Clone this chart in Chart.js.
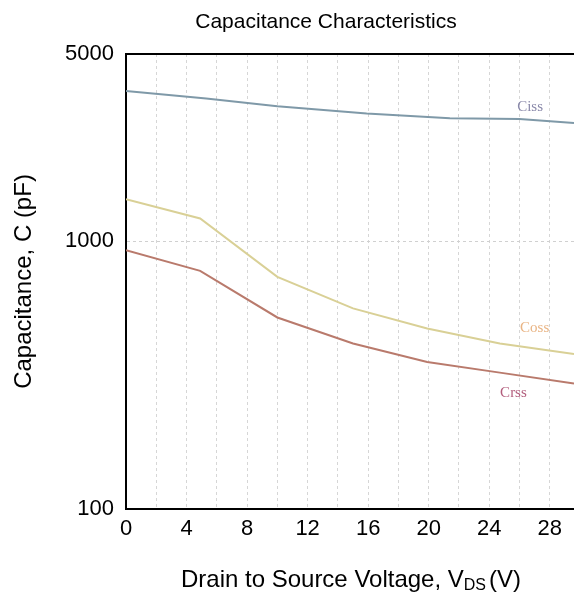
<!DOCTYPE html>
<html>
<head>
<meta charset="utf-8">
<script src="https://cdn.jsdelivr.net/npm/chart.js@4/dist/chart.umd.min.js"></script>
<style>
  html, body { margin: 0; padding: 0; background: #fff; }
  #wrap { width: 574px; height: 592px; }
</style>
</head>
<body>
<div id="wrap"><canvas id="capChart" width="574" height="592"></canvas></div>
<script>
// --- dados (V, pF) ---
const vdsCiss = [0, 5.3, 10, 15.9, 21.4, 26, 29.6];
const ciss    = [3640, 3410, 3190, 3000, 2880, 2860, 2760];
const vdsCoss = [0, 4.9, 10, 15, 19.9, 24.7, 29.6];
const coss    = [1435, 1216, 736, 561, 472, 415, 379];
const vdsCrss = [0, 4.9, 10, 15, 19.9, 24.7, 29.6];
const crss    = [925, 775, 519, 415, 354, 323, 294];

const nomes = ['Ciss', 'Coss', 'Crss'];
const corLinha = ['#7f99a8', '#d9d096', '#b97a6c'];
const corRotulo = ['#8a89aa', '#e9b484', '#b25d7c'];
// posição dos rótulos (V, pF)
const rotuloX = [26.7, 27.0, 25.6];
const rotuloY = [3160, 473, 271];

const xTicks = [0, 2, 4, 6, 8, 10, 12, 14, 16, 18, 20, 22, 24, 26, 28];
const yTicks = [100, 1000, 5000];
const xMax = 29.6;

function pares(xs, ys) {
    return xs.map((x, i) => ({ x: x, y: ys[i] }));
}

const seriesDados = [pares(vdsCiss, ciss), pares(vdsCoss, coss), pares(vdsCrss, crss)];

// desenha moldura, rótulos das curvas, título e título do eixo X
const extrasPlugin = {
    id: 'extras',
    afterDraw(chart) {
        const { ctx, chartArea, scales } = chart;
        ctx.save();
        // linha de cima
        ctx.strokeStyle = '#000';
        ctx.lineWidth = 2;
        ctx.beginPath();
        ctx.moveTo(chartArea.left - 1, chartArea.top);
        ctx.lineTo(chartArea.right, chartArea.top);
        ctx.stroke();

        // rótulos Ciss / Coss / Crss
        ctx.font = '15px "Liberation Serif", "DejaVu Serif", serif';
        ctx.textAlign = 'center';
        ctx.textBaseline = 'middle';
        nomes.forEach((n, i) => {
            ctx.fillStyle = corRotulo[i];
            ctx.fillText(n, scales.x.getPixelForValue(rotuloX[i]), scales.y.getPixelForValue(rotuloY[i]));
        });

        // título
        ctx.fillStyle = '#000';
        ctx.font = '21px "Liberation Sans", Arial, sans-serif';
        ctx.textBaseline = 'alphabetic';
        ctx.fillText('Capacitance Characteristics', 326, 28);

        // título do eixo X com subscrito
        const parte1 = 'Drain to Source Voltage, V';
        const sub = 'DS';
        const parte3 = '(V)';
        const fGrande = '24px "Liberation Sans", Arial, sans-serif';
        const fPeq = '16px "Liberation Sans", Arial, sans-serif';
        ctx.font = fGrande;
        const w1 = ctx.measureText(parte1).width;
        const w3 = ctx.measureText(parte3).width;
        ctx.font = fPeq;
        const w2 = ctx.measureText(sub).width;
        const total = w1 + w2 + 3 + w3;
        let x0 = 351 - total / 2;
        const base = 587;
        ctx.textAlign = 'left';
        ctx.font = fGrande;
        ctx.fillText(parte1, x0, base);
        ctx.font = fPeq;
        ctx.fillText(sub, x0 + w1, base + 3);
        ctx.font = fGrande;
        ctx.fillText(parte3, x0 + w1 + w2 + 3, base);
        ctx.restore();
    }
};

const ctx = document.getElementById('capChart').getContext('2d');

new Chart(ctx, {
    type: 'line',
    data: {
        datasets: nomes.map((n, i) => ({
            label: n,
            data: seriesDados[i],
            borderColor: corLinha[i],
            borderWidth: 2,
            pointRadius: 0,
            tension: 0,
            fill: false
        }))
    },
    options: {
        responsive: false,
        animation: false,
        layout: { padding: { top: 54, right: 0, left: 0, bottom: 0 } },
        plugins: {
            legend: { display: false },
            tooltip: { enabled: false },
            title: { display: false }
        },
        scales: {
            x: {
                type: 'linear',
                min: 0,
                max: xMax,
                afterFit(scale) {
                    scale.height = 83;
                    scale.paddingRight = 0;
                },
                afterBuildTicks(scale) {
                    scale.ticks = xTicks.map(v => ({ value: v }));
                },
                border: { color: '#000', width: 2, dash: [3, 3] },
                grid: {
                    drawTicks: false,
                    color: (c) => (c.tick && c.tick.value > 0 ? '#d6d6d6' : 'transparent'),
                    lineWidth: 1
                },
                ticks: {
                    autoSkip: false,
                    maxRotation: 0,
                    padding: 7,
                    color: '#000',
                    font: { size: 22, family: '"Liberation Sans", Arial, sans-serif' },
                    callback: (v) => (v % 4 === 0 ? String(v) : '')
                }
            },
            y: {
                type: 'logarithmic',
                min: 100,
                max: 5000,
                afterFit(scale) { scale.width = 126; },
                afterBuildTicks(scale) {
                    scale.ticks = yTicks.map(v => ({ value: v }));
                },
                border: { color: '#000', width: 2, dash: [3, 3] },
                grid: {
                    drawTicks: false,
                    color: (c) => (c.tick && c.tick.value === 1000 ? '#d0d0d0' : 'transparent'),
                    lineWidth: 1
                },
                ticks: {
                    padding: 12,
                    color: '#000',
                    font: { size: 22, family: '"Liberation Sans", Arial, sans-serif' },
                    callback: (v) => String(v)
                },
                title: {
                    display: true,
                    text: 'Capacitance, C (pF)',
                    color: '#000',
                    font: { size: 24, family: '"Liberation Sans", Arial, sans-serif' },
                    padding: { top: 10, bottom: 0 }
                }
            }
        }
    },
    plugins: [extrasPlugin]
});
</script>
</body>
</html>
